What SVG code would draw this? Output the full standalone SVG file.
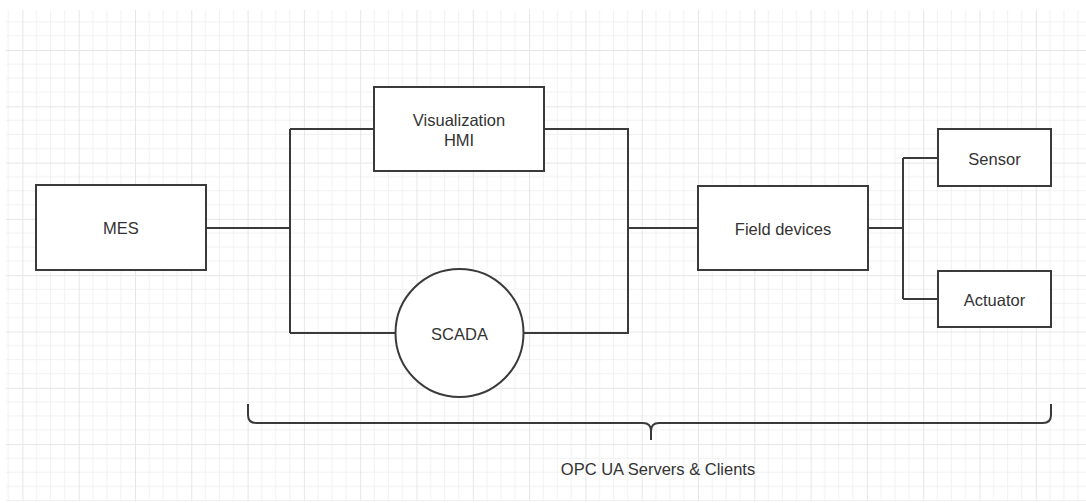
<svg xmlns="http://www.w3.org/2000/svg" width="1086" height="503" viewBox="0 0 1086 503">
<style>
.box{fill:#ffffff;stroke:#3a3a3a;stroke-width:2}
.wire{fill:none;stroke:#3a3a3a;stroke-width:2}
.lbl{font-family:"Liberation Sans",Arial,sans-serif;font-size:16.5px;fill:#333333;text-anchor:middle}
</style>
<defs>
<pattern id="grid" patternUnits="userSpaceOnUse" x="22.4" y="50" width="56.3" height="56.3">
<path d="M14.07 0V56.3M28.15 0V56.3M42.22 0V56.3M0 14.07H56.3M0 28.15H56.3M0 42.22H56.3" stroke="#f1f1f1" stroke-width="1" fill="none"/>
<path d="M0.5 0V56.3M0 0.5H56.3" stroke="#e6e6e6" stroke-width="1" fill="none"/>
</pattern>
</defs>
<rect width="1086" height="503" fill="#ffffff"/>
<rect x="6" y="10" width="1080" height="491" fill="url(#grid)"/>
<g id="connectors">
<path class="wire" d="M206 228H290M290 129V333M290 129H374M290 333H396"/>
<path class="wire" d="M544 129H628V333H523M628 228H698"/>
<path class="wire" d="M868 228H903M903 158V299M903 158H938M903 299H938"/>
</g>
<g id="mes"><rect class="box" x="36" y="185" width="170" height="85"/><text class="lbl" x="121" y="234">MES</text></g>
<g id="hmi"><rect class="box" x="374" y="87" width="170" height="84"/><text class="lbl" x="459" y="126">Visualization</text><text class="lbl" x="459" y="146">HMI</text></g>
<g id="scada"><circle class="box" cx="459.5" cy="333" r="64"/><text class="lbl" x="459.5" y="340">SCADA</text></g>
<g id="field"><rect class="box" x="698" y="186" width="170" height="84"/><text class="lbl" x="783" y="235">Field devices</text></g>
<g id="sensor"><rect class="box" x="938" y="129" width="113" height="57"/><text class="lbl" x="994.5" y="165">Sensor</text></g>
<g id="actuator"><rect class="box" x="938" y="271" width="113" height="56"/><text class="lbl" x="994.5" y="306">Actuator</text></g>
<g id="brace">
<path class="wire" d="M248 404V415Q248 423 256 423H643Q651 423 651 431V440M651 431Q651 423 659 423H1043Q1051 423 1051 415V404"/>
<text class="lbl" x="658" y="475">OPC UA Servers &amp; Clients</text>
</g>
</svg>
